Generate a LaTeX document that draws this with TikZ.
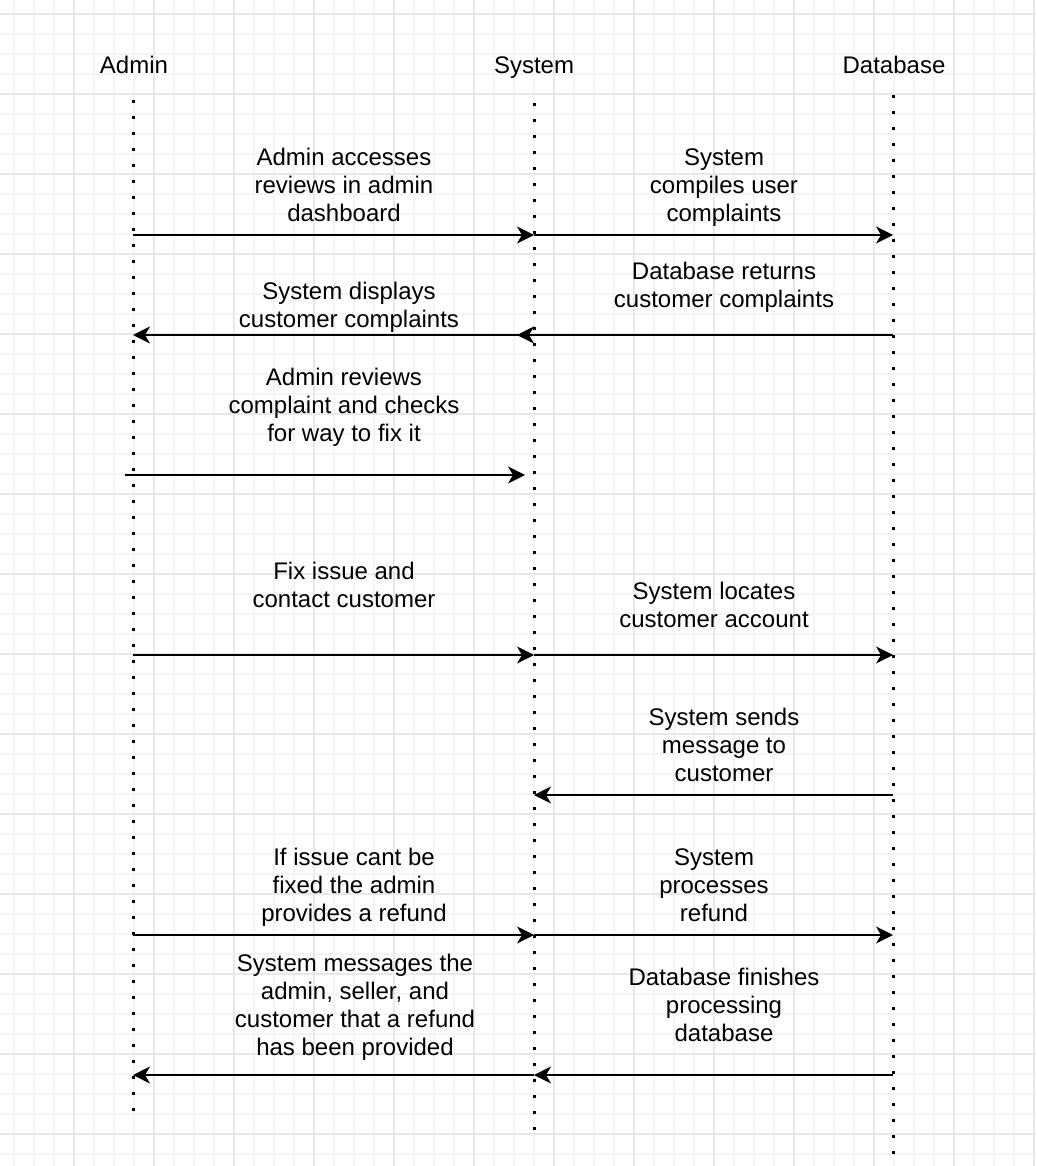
\documentclass[tikz,border=0pt]{standalone}
\usepackage{fontspec}
\setmainfont{Liberation Sans}
\usetikzlibrary{arrows.meta}
\definecolor{gridminor}{HTML}{F4F4F4}
\definecolor{gridmajor}{HTML}{E8E8E8}
\tikzset{actor style/.style={
		text=black,
		inner sep=0pt,
		anchor=base,
		font=\fontsize{24}{28}\selectfont,
	},
	label style/.style={
		text=black,
		align=center,
		inner sep=0pt,
		anchor=south,
		text depth=5pt,
		font=\fontsize{24}{28}\selectfont,
	},
	life style/.style={
		line width=3pt,
		dash pattern=on 3pt off 13pt,
	},
	msg style/.style={
		line width=1.5pt,
		-{Stealth[length=17pt,width=17pt,inset=5pt]},
	}
}

\begin{document}
\begin{tikzpicture}[x=1pt,y=-1pt]
	\useasboundingbox (0,0) rectangle (1036,1166);
	
	% background grid
	\foreach \g in {14,34,...,1034}
		\draw[gridminor, line width=1.2pt] (\g,0) -- (\g,1166);
	\foreach \g in {14,34,...,1164}
		\draw[gridminor, line width=1.2pt] (0,\g) -- (1036,\g);
	\foreach \g in {74,154,...,1034}
		\draw[gridmajor, line width=1.5pt] (\g,0) -- (\g,1166);
	\foreach \g in {14,94,...,1164}
		\draw[gridmajor, line width=1.5pt] (0,\g) -- (1036,\g);
	
	% actors
	\node[actor style] (Admin) at (134,73.5) {Admin};
	\node[actor style] (System) at (534,73.5) {System};
	\node[actor style] (Database) at (894,73.5) {Database};
	
	% lifelines
	\coordinate (AdminTop) at (133,100);
	\coordinate (AdminEnd) at (133,1116);
	\coordinate (SystemTop) at (534,103);
	\coordinate (SystemEnd) at (534,1135);
	\coordinate (DatabaseTop) at (893,95);
	\coordinate (DatabaseEnd) at (893,1155);
	\draw[life style] (AdminTop) -- (AdminEnd);
	\draw[life style] (SystemTop) -- (SystemEnd);
	\draw[life style] (DatabaseTop) -- (DatabaseEnd);
	
	% message points
	\foreach \name/\y in {1/235, 2/335, 3/475, 4/655, 5/795, 6/935, 7/1075}{
		\coordinate (A\name) at (133,\y);
		\coordinate (S\name) at (534,\y);
		\coordinate (D\name) at (893,\y);
	}
	\coordinate (AdminOff) at (125,475);
	\coordinate (SystemOff) at (525,475);
	\coordinate (SystemShort) at (517,335);
	
	% messages
	\draw[msg style] (A1) -- (S1);
	\node[label style] (AccessReviews) at (344,226.5) {Admin accesses\\reviews in admin\\dashboard};
	
	\draw[msg style] (S1) -- (D1);
	\node[label style] (CompileComplaints) at (724,226.5) {System\\compiles user\\complaints};
	
	\draw[msg style] (D2) -- (SystemShort);
	\node[label style] (ReturnComplaints) at (724,312.5) {Database returns\\customer complaints};
	
	\draw[msg style] (S2) -- (A2);
	\node[label style] (DisplayComplaints) at (349,332.5) {System displays\\customer complaints};
	
	\draw[msg style] (AdminOff) -- (SystemOff);
	\node[label style] (ReviewComplaint) at (344,446.5) {Admin reviews\\complaint and checks\\for way to fix it};
	
	\draw[msg style] (A4) -- (S4);
	\node[label style] (FixIssue) at (344,612.5) {Fix issue and\\contact customer};
	
	\draw[msg style] (S4) -- (D4);
	\node[label style] (LocateAccount) at (714,632.5) {System locates\\customer account};
	
	\draw[msg style] (D5) -- (S5);
	\node[label style] (SendMessage) at (724,786.5) {System sends\\message to\\customer};
	
	\draw[msg style] (A6) -- (S6);
	\node[label style] (ProvideRefund) at (354,926.5) {If issue cant be\\fixed the admin\\provides a refund};
	
	\draw[msg style] (S6) -- (D6);
	\node[label style] (ProcessRefund) at (714,926.5) {System\\processes\\refund};
	
	\draw[msg style] (S7) -- (A7);
	\node[label style] (RefundMessage) at (355,1060.5) {System messages the\\admin, seller, and\\customer that a refund\\has been provided};
	
	\draw[msg style] (D7) -- (S7);
	\node[label style] (FinishProcessing) at (724,1046.5) {Database finishes\\processing\\database};
\end{tikzpicture}
\end{document}
